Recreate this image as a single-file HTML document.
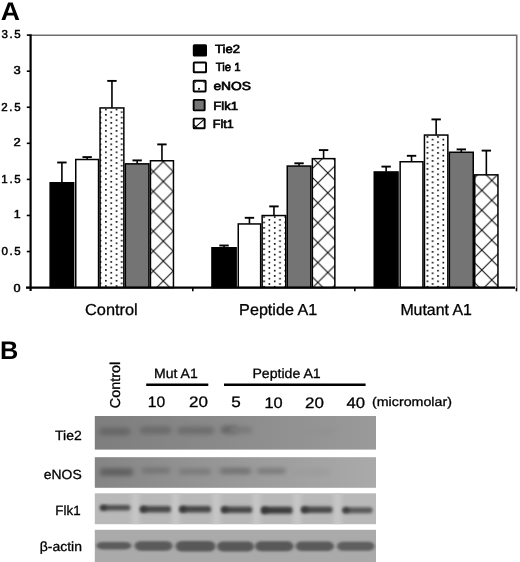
<!DOCTYPE html>
<html><head><meta charset="utf-8"><title>Figure</title>
<style>
html,body{margin:0;padding:0;background:#fff;width:520px;height:562px;overflow:hidden}
svg{filter:grayscale(1) blur(0.35px)}
svg{position:absolute;left:0;top:0;display:block}
text{font-family:"Liberation Sans",sans-serif;text-rendering:geometricPrecision}
</style></head>
<body>
<svg width="520" height="562" viewBox="0 0 520 562">
<defs>
<pattern id="dots0" patternUnits="userSpaceOnUse" x="105.10" y="108.70" width="10.6" height="5.35"><rect x="0" y="0" width="1.6" height="1.6" fill="#000"/><rect x="5.3" y="2.67" width="1.6" height="1.6" fill="#000"/></pattern>
<pattern id="hatch0" patternUnits="userSpaceOnUse" x="163.30" y="181.50" width="19.9" height="19.9"><path d="M-1,-1 L20.9,20.9 M20.9,-1 L-1,20.9" stroke="#111" stroke-width="1.1" fill="none"/></pattern>
<pattern id="dots1" patternUnits="userSpaceOnUse" x="263.30" y="109.30" width="10.6" height="5.35"><rect x="0" y="0" width="1.6" height="1.6" fill="#000"/><rect x="5.3" y="2.67" width="1.6" height="1.6" fill="#000"/></pattern>
<pattern id="hatch1" patternUnits="userSpaceOnUse" x="327.80" y="173.00" width="19.9" height="19.9"><path d="M-1,-1 L20.9,20.9 M20.9,-1 L-1,20.9" stroke="#111" stroke-width="1.1" fill="none"/></pattern>
<pattern id="dots2" patternUnits="userSpaceOnUse" x="426.60" y="109.30" width="10.6" height="5.35"><rect x="0" y="0" width="1.6" height="1.6" fill="#000"/><rect x="5.3" y="2.67" width="1.6" height="1.6" fill="#000"/></pattern>
<pattern id="hatch2" patternUnits="userSpaceOnUse" x="481.80" y="270.00" width="19.9" height="19.9"><path d="M-1,-1 L20.9,20.9 M20.9,-1 L-1,20.9" stroke="#111" stroke-width="1.1" fill="none"/></pattern>
<filter id="bl1" x="-20%" y="-100%" width="140%" height="300%"><feGaussianBlur stdDeviation="1.6 1.4"/></filter>
<filter id="bl2" x="-20%" y="-100%" width="140%" height="300%"><feGaussianBlur stdDeviation="1.2 1.0"/></filter>
</defs>
<path d="M30.5,35.2 H516.7 V288" stroke="#6e6e6e" stroke-width="1.6" fill="none"/>
<rect x="50.15" y="182.75" width="23.50" height="104.85" fill="#000" stroke="#000" stroke-width="1.5"/>
<line x1="61.90" y1="182.50" x2="61.90" y2="162.50" stroke="#000" stroke-width="1.6"/>
<line x1="57.20" y1="162.50" x2="66.60" y2="162.50" stroke="#000" stroke-width="1.9"/>
<rect x="75.75" y="159.50" width="22.80" height="128.10" fill="#fff" stroke="#000" stroke-width="1.5"/>
<line x1="87.15" y1="159.25" x2="87.15" y2="157.10" stroke="#000" stroke-width="1.6"/>
<line x1="82.45" y1="157.10" x2="91.85" y2="157.10" stroke="#000" stroke-width="1.9"/>
<rect x="100.05" y="107.95" width="23.80" height="179.65" fill="url(#dots0)" stroke="#000" stroke-width="1.5"/>
<line x1="111.95" y1="107.70" x2="111.95" y2="80.90" stroke="#000" stroke-width="1.6"/>
<line x1="107.25" y1="80.90" x2="116.65" y2="80.90" stroke="#000" stroke-width="1.9"/>
<rect x="125.35" y="163.85" width="23.60" height="123.75" fill="#747474" stroke="#000" stroke-width="1.5"/>
<line x1="137.15" y1="163.60" x2="137.15" y2="160.40" stroke="#000" stroke-width="1.6"/>
<line x1="132.45" y1="160.40" x2="141.85" y2="160.40" stroke="#000" stroke-width="1.9"/>
<rect x="150.45" y="160.75" width="23.00" height="126.85" fill="url(#hatch0)" stroke="#000" stroke-width="1.5"/>
<line x1="161.95" y1="160.50" x2="161.95" y2="144.40" stroke="#000" stroke-width="1.6"/>
<line x1="157.25" y1="144.40" x2="166.65" y2="144.40" stroke="#000" stroke-width="1.9"/>
<rect x="211.95" y="247.75" width="24.20" height="39.85" fill="#000" stroke="#000" stroke-width="1.5"/>
<line x1="224.05" y1="247.50" x2="224.05" y2="245.50" stroke="#000" stroke-width="1.6"/>
<line x1="219.35" y1="245.50" x2="228.75" y2="245.50" stroke="#000" stroke-width="1.9"/>
<rect x="238.25" y="223.95" width="22.40" height="63.65" fill="#fff" stroke="#000" stroke-width="1.5"/>
<line x1="249.45" y1="223.70" x2="249.45" y2="217.80" stroke="#000" stroke-width="1.6"/>
<line x1="244.75" y1="217.80" x2="254.15" y2="217.80" stroke="#000" stroke-width="1.9"/>
<rect x="262.15" y="215.55" width="23.60" height="72.05" fill="url(#dots1)" stroke="#000" stroke-width="1.5"/>
<line x1="273.95" y1="215.30" x2="273.95" y2="206.40" stroke="#000" stroke-width="1.6"/>
<line x1="269.25" y1="206.40" x2="278.65" y2="206.40" stroke="#000" stroke-width="1.9"/>
<rect x="287.25" y="166.05" width="23.60" height="121.55" fill="#747474" stroke="#000" stroke-width="1.5"/>
<line x1="299.05" y1="165.80" x2="299.05" y2="163.30" stroke="#000" stroke-width="1.6"/>
<line x1="294.35" y1="163.30" x2="303.75" y2="163.30" stroke="#000" stroke-width="1.9"/>
<rect x="312.35" y="158.65" width="22.50" height="128.95" fill="url(#hatch1)" stroke="#000" stroke-width="1.5"/>
<line x1="323.60" y1="158.40" x2="323.60" y2="150.10" stroke="#000" stroke-width="1.6"/>
<line x1="318.90" y1="150.10" x2="328.30" y2="150.10" stroke="#000" stroke-width="1.9"/>
<rect x="374.25" y="171.95" width="23.80" height="115.65" fill="#000" stroke="#000" stroke-width="1.5"/>
<line x1="386.15" y1="171.70" x2="386.15" y2="166.60" stroke="#000" stroke-width="1.6"/>
<line x1="381.45" y1="166.60" x2="390.85" y2="166.60" stroke="#000" stroke-width="1.9"/>
<rect x="400.15" y="161.75" width="22.80" height="125.85" fill="#fff" stroke="#000" stroke-width="1.5"/>
<line x1="411.55" y1="161.50" x2="411.55" y2="155.80" stroke="#000" stroke-width="1.6"/>
<line x1="406.85" y1="155.80" x2="416.25" y2="155.80" stroke="#000" stroke-width="1.9"/>
<rect x="424.45" y="135.05" width="23.40" height="152.55" fill="url(#dots2)" stroke="#000" stroke-width="1.5"/>
<line x1="436.15" y1="134.80" x2="436.15" y2="119.40" stroke="#000" stroke-width="1.6"/>
<line x1="431.45" y1="119.40" x2="440.85" y2="119.40" stroke="#000" stroke-width="1.9"/>
<rect x="449.35" y="152.25" width="23.90" height="135.35" fill="#747474" stroke="#000" stroke-width="1.5"/>
<line x1="461.30" y1="152.00" x2="461.30" y2="149.40" stroke="#000" stroke-width="1.6"/>
<line x1="456.60" y1="149.40" x2="466.00" y2="149.40" stroke="#000" stroke-width="1.9"/>
<rect x="474.75" y="174.85" width="23.20" height="112.75" fill="url(#hatch2)" stroke="#000" stroke-width="1.5"/>
<line x1="486.35" y1="174.60" x2="486.35" y2="150.60" stroke="#000" stroke-width="1.6"/>
<line x1="481.65" y1="150.60" x2="491.05" y2="150.60" stroke="#000" stroke-width="1.9"/>
<line x1="30.6" y1="34.2" x2="30.6" y2="291.0" stroke="#000" stroke-width="2.2"/>
<line x1="26.0" y1="287.6" x2="515" y2="287.6" stroke="#000" stroke-width="2.1"/>
<line x1="26.8" y1="287.60" x2="30" y2="287.60" stroke="#000" stroke-width="1.6"/>
<line x1="26.8" y1="251.53" x2="30" y2="251.53" stroke="#000" stroke-width="1.6"/>
<line x1="26.8" y1="215.46" x2="30" y2="215.46" stroke="#000" stroke-width="1.6"/>
<line x1="26.8" y1="179.39" x2="30" y2="179.39" stroke="#000" stroke-width="1.6"/>
<line x1="26.8" y1="143.32" x2="30" y2="143.32" stroke="#000" stroke-width="1.6"/>
<line x1="26.8" y1="107.25" x2="30" y2="107.25" stroke="#000" stroke-width="1.6"/>
<line x1="26.8" y1="71.18" x2="30" y2="71.18" stroke="#000" stroke-width="1.6"/>
<line x1="26.8" y1="35.11" x2="30" y2="35.11" stroke="#000" stroke-width="1.6"/>
<line x1="192.8" y1="288" x2="192.8" y2="291.3" stroke="#000" stroke-width="1.6"/>
<line x1="354.8" y1="288" x2="354.8" y2="291.3" stroke="#000" stroke-width="1.6"/>
<line x1="516.5" y1="288" x2="516.5" y2="291.3" stroke="#000" stroke-width="1.6"/>
<rect x="193.75" y="45.25" width="12.30" height="10.30" rx="0.6" fill="#000" stroke="#000" stroke-width="1.9"/>
<rect x="193.75" y="62.55" width="12.30" height="9.70" rx="0.6" fill="#fff" stroke="#000" stroke-width="1.9"/>
<rect x="193.65" y="80.75" width="12.00" height="10.70" rx="0.6" fill="#fff" stroke="#000" stroke-width="1.9"/>
<rect x="193.65" y="99.85" width="11.00" height="10.50" rx="0.6" fill="#767676" stroke="#000" stroke-width="1.9"/>
<rect x="193.65" y="118.65" width="11.00" height="9.60" rx="0.6" fill="#fff" stroke="#000" stroke-width="1.9"/>
<rect x="198.1" y="87.9" width="1.8" height="1.8" fill="#000"/>
<rect x="194.6" y="81.6" width="1.3" height="1.3" fill="#222"/><rect x="203.4" y="81.6" width="1.3" height="1.3" fill="#222"/>
<path d="M194.0,128.4 L205.0,118.6 M194.0,124.8 L197.4,128.4" stroke="#000" stroke-width="1.1" fill="none"/>
<line x1="146.2" y1="384.8" x2="208.3" y2="384.8" stroke="#000" stroke-width="2.6"/>
<line x1="224" y1="384.7" x2="365.6" y2="384.7" stroke="#000" stroke-width="2.6"/>
<defs>
<linearGradient id="gTie" x1="0" x2="1" y1="0" y2="0"><stop offset="0" stop-color="#7e7e7e"/><stop offset="0.4" stop-color="#898989"/><stop offset="1" stop-color="#9a9a9a"/></linearGradient>
<linearGradient id="gEnos" x1="0" x2="1" y1="0" y2="0"><stop offset="0" stop-color="#858585"/><stop offset="0.45" stop-color="#979797"/><stop offset="1" stop-color="#aaaaaa"/></linearGradient>
<filter id="fb" x="-30%" y="-150%" width="160%" height="400%"><feGaussianBlur stdDeviation="2.4 1.9"/></filter>
<filter id="fb2" x="-30%" y="-150%" width="160%" height="400%"><feGaussianBlur stdDeviation="1.6 1.2"/></filter>
<filter id="fb4" x="-30%" y="-150%" width="160%" height="400%"><feGaussianBlur stdDeviation="1.8 1.5"/></filter>
<filter id="fb3" x="-100%" y="-20%" width="300%" height="140%"><feGaussianBlur stdDeviation="2.2 0.5"/></filter>
<clipPath id="cTie"><rect x="94.8" y="416.0" width="281.2" height="33.6"/></clipPath>
<clipPath id="cEnos"><rect x="94.8" y="457.2" width="281.2" height="30.6"/></clipPath>
<clipPath id="cFlk"><rect x="94.8" y="493.3" width="281.2" height="30.9"/></clipPath>
<clipPath id="cAct"><rect x="94.8" y="529.8" width="281.2" height="32.2"/></clipPath>
</defs>
<rect x="94.8" y="416.0" width="281.2" height="33.6" fill="url(#gTie)"/>
<g clip-path="url(#cTie)">
<rect x="99.4" y="427.6" width="30.8" height="8.0" rx="3" fill="#686868" filter="url(#fb)"/>
<rect x="140.0" y="426.3" width="31.2" height="8.0" rx="3" fill="#6c6c6c" filter="url(#fb)"/>
<rect x="177.5" y="426.5" width="36.3" height="8.0" rx="3" fill="#6e6e6e" filter="url(#fb)"/>
<rect x="221.0" y="425.8" width="17.0" height="8.0" rx="3" fill="#666666" filter="url(#fb)"/>
<rect x="230.0" y="426.5" width="22.0" height="7.0" rx="3" fill="#7a7a7a" filter="url(#fb)"/>
<rect x="302.0" y="428.0" width="32.0" height="7.0" rx="3" fill="#929292" filter="url(#fb)"/>
</g>
<rect x="94.8" y="457.2" width="281.2" height="30.6" fill="url(#gEnos)"/>
<g clip-path="url(#cEnos)">
<rect x="100.0" y="467.9" width="33.0" height="8.0" rx="2.5" fill="#626262" filter="url(#fb)"/>
<rect x="141.6" y="467.4" width="28.4" height="6.0" rx="2.5" fill="#747474" filter="url(#fb)"/>
<rect x="178.8" y="468.6" width="32.2" height="6.0" rx="2.5" fill="#7a7a7a" filter="url(#fb)"/>
<rect x="219.8" y="467.8" width="31.0" height="6.5" rx="2.5" fill="#737373" filter="url(#fb)"/>
<rect x="257.0" y="468.0" width="28.5" height="6.0" rx="2.5" fill="#7c7c7c" filter="url(#fb)"/>
<rect x="292.0" y="469.0" width="38.0" height="6.0" rx="2.5" fill="#9c9c9c" filter="url(#fb)"/>
</g>
<rect x="94.8" y="493.3" width="281.2" height="30.9" fill="#b9b9b9"/>
<g clip-path="url(#cFlk)">
<rect x="131.5" y="490" width="8" height="38" fill="#c6c6c6" filter="url(#fb3)"/>
<rect x="171.5" y="490" width="8" height="38" fill="#c6c6c6" filter="url(#fb3)"/>
<rect x="212.5" y="490" width="8" height="38" fill="#c6c6c6" filter="url(#fb3)"/>
<rect x="252.5" y="490" width="8" height="38" fill="#c6c6c6" filter="url(#fb3)"/>
<rect x="293.0" y="490" width="8" height="38" fill="#c6c6c6" filter="url(#fb3)"/>
<rect x="333.5" y="490" width="8" height="38" fill="#c6c6c6" filter="url(#fb3)"/>
<rect x="100.0" y="505.1" width="30.4" height="5.5" rx="2.5" fill="#505050" filter="url(#fb4)"/>
<ellipse cx="103.5" cy="507.8" rx="3.5" ry="2.8" fill="#303030" filter="url(#fb4)" opacity="0.7"/>
<rect x="140.0" y="505.9" width="31.0" height="6.5" rx="2.5" fill="#4a4a4a" filter="url(#fb4)"/>
<ellipse cx="143.5" cy="509.2" rx="3.5" ry="3.2" fill="#303030" filter="url(#fb4)" opacity="0.7"/>
<rect x="179.4" y="505.9" width="31.7" height="6.5" rx="2.5" fill="#464646" filter="url(#fb4)"/>
<ellipse cx="182.9" cy="509.2" rx="3.5" ry="3.2" fill="#303030" filter="url(#fb4)" opacity="0.7"/>
<rect x="221.2" y="506.4" width="31.1" height="6.5" rx="2.5" fill="#4a4a4a" filter="url(#fb4)"/>
<ellipse cx="224.7" cy="509.6" rx="3.5" ry="3.2" fill="#303030" filter="url(#fb4)" opacity="0.7"/>
<rect x="261.2" y="506.7" width="31.3" height="7.0" rx="2.5" fill="#3e3e3e" filter="url(#fb4)"/>
<ellipse cx="264.7" cy="510.2" rx="3.5" ry="3.5" fill="#303030" filter="url(#fb4)" opacity="0.7"/>
<rect x="301.2" y="506.6" width="31.3" height="6.5" rx="2.5" fill="#4c4c4c" filter="url(#fb4)"/>
<ellipse cx="304.7" cy="509.8" rx="3.5" ry="3.2" fill="#303030" filter="url(#fb4)" opacity="0.7"/>
<rect x="342.5" y="507.2" width="30.0" height="6.0" rx="2.5" fill="#5a5a5a" filter="url(#fb4)"/>
<ellipse cx="346.0" cy="510.2" rx="3.5" ry="3.0" fill="#303030" filter="url(#fb4)" opacity="0.7"/>
</g>
<rect x="94.8" y="529.8" width="281.2" height="32.2" fill="#aaaaaa"/>
<g clip-path="url(#cAct)">
<rect x="96.3" y="541.9" width="35.1" height="7.5" rx="6" ry="3.8" fill="#5c5c5c" filter="url(#fb2)"/>
<rect x="134.6" y="541.2" width="37.9" height="9.5" rx="6" ry="4.8" fill="#5a5a5a" filter="url(#fb2)"/>
<rect x="175.5" y="541.0" width="40.0" height="10.5" rx="6" ry="5.2" fill="#585858" filter="url(#fb2)"/>
<rect x="217.0" y="541.5" width="37.0" height="10.0" rx="6" ry="5.0" fill="#585858" filter="url(#fb2)"/>
<rect x="255.0" y="541.3" width="38.5" height="10.0" rx="6" ry="5.0" fill="#585858" filter="url(#fb2)"/>
<rect x="295.5" y="541.5" width="38.5" height="9.5" rx="6" ry="4.8" fill="#5a5a5a" filter="url(#fb2)"/>
<rect x="337.0" y="541.8" width="37.5" height="9.0" rx="6" ry="4.5" fill="#5e5e5e" filter="url(#fb2)"/>
</g>
<text x="0.74" y="19.90" font-size="25.6" font-weight="bold" textLength="19.26" lengthAdjust="spacingAndGlyphs" fill="#000" stroke="#000" stroke-width="0.0">A</text>
<text x="-0.10" y="358.88" font-size="25.6" font-weight="bold" textLength="18.30" lengthAdjust="spacingAndGlyphs" fill="#000" stroke="#000" stroke-width="0.0">B</text>
<text x="1.62" y="38.30" font-size="11.5" font-weight="normal" textLength="18.97" lengthAdjust="spacing" fill="#000" stroke="#000" stroke-width="0.5">3.5</text>
<text x="13.59" y="74.39" font-size="11.5" font-weight="normal" textLength="7.26" lengthAdjust="spacingAndGlyphs" fill="#000" stroke="#000" stroke-width="0.5">3</text>
<text x="1.13" y="110.50" font-size="11.5" font-weight="normal" textLength="19.56" lengthAdjust="spacing" fill="#000" stroke="#000" stroke-width="0.5">2.5</text>
<text x="13.62" y="146.46" font-size="11.5" font-weight="normal" textLength="7.23" lengthAdjust="spacingAndGlyphs" fill="#000" stroke="#000" stroke-width="0.5">2</text>
<text x="1.29" y="183.10" font-size="11.5" font-weight="normal" textLength="19.42" lengthAdjust="spacing" fill="#000" stroke="#000" stroke-width="0.5">1.5</text>
<text x="13.74" y="217.89" font-size="11.5" font-weight="normal" textLength="6.89" lengthAdjust="spacingAndGlyphs" fill="#000" stroke="#000" stroke-width="0.5">1</text>
<text x="1.54" y="254.91" font-size="11.5" font-weight="normal" textLength="19.05" lengthAdjust="spacing" fill="#000" stroke="#000" stroke-width="0.5">0.5</text>
<text x="13.40" y="291.90" font-size="11.5" font-weight="normal" textLength="7.07" lengthAdjust="spacingAndGlyphs" fill="#000" stroke="#000" stroke-width="0.5">0</text>
<text x="85.03" y="314.65" font-size="15.9" font-weight="normal" textLength="52.74" lengthAdjust="spacingAndGlyphs" fill="#000" stroke="#000" stroke-width="0.3">Control</text>
<text x="239.14" y="315.06" font-size="15.9" font-weight="normal" textLength="78.15" lengthAdjust="spacingAndGlyphs" fill="#000" stroke="#000" stroke-width="0.3">Peptide A1</text>
<text x="400.39" y="315.01" font-size="15.9" font-weight="normal" textLength="71.56" lengthAdjust="spacingAndGlyphs" fill="#000" stroke="#000" stroke-width="0.3">Mutant A1</text>
<text x="215.04" y="53.24" font-size="11.8" font-weight="normal" textLength="24.89" lengthAdjust="spacingAndGlyphs" fill="#000" stroke="#000" stroke-width="0.65">Tie2</text>
<text x="215.76" y="71.23" font-size="11.8" font-weight="normal" textLength="24.89" lengthAdjust="spacingAndGlyphs" fill="#000" stroke="#000" stroke-width="0.65">Tie 1</text>
<text x="213.40" y="89.50" font-size="11.8" font-weight="normal" textLength="37.66" lengthAdjust="spacingAndGlyphs" fill="#000" stroke="#000" stroke-width="0.65">eNOS</text>
<text x="213.26" y="109.84" font-size="11.8" font-weight="normal" textLength="24.70" lengthAdjust="spacingAndGlyphs" fill="#000" stroke="#000" stroke-width="0.65">Flk1</text>
<text x="212.88" y="127.67" font-size="11.8" font-weight="normal" textLength="20.93" lengthAdjust="spacingAndGlyphs" fill="#000" stroke="#000" stroke-width="0.65">Flt1</text>
<text x="154.01" y="377.84" font-size="13.6" font-weight="normal" textLength="43.71" lengthAdjust="spacingAndGlyphs" fill="#000" stroke="#000" stroke-width="0.3">Mut A1</text>
<text x="252.45" y="377.95" font-size="13.6" font-weight="normal" textLength="68.26" lengthAdjust="spacingAndGlyphs" fill="#000" stroke="#000" stroke-width="0.3">Peptide A1</text>
<text x="147.80" y="407.23" font-size="15.1" font-weight="normal" textLength="17.42" lengthAdjust="spacingAndGlyphs" fill="#000" stroke="#000" stroke-width="0.3">10</text>
<text x="189.13" y="407.09" font-size="15.1" font-weight="normal" textLength="18.92" lengthAdjust="spacingAndGlyphs" fill="#000" stroke="#000" stroke-width="0.3">20</text>
<text x="231.35" y="407.04" font-size="15.1" font-weight="normal" textLength="9.52" lengthAdjust="spacingAndGlyphs" fill="#000" stroke="#000" stroke-width="0.3">5</text>
<text x="264.42" y="407.85" font-size="15.1" font-weight="normal" textLength="18.26" lengthAdjust="spacingAndGlyphs" fill="#000" stroke="#000" stroke-width="0.3">10</text>
<text x="305.04" y="407.87" font-size="15.1" font-weight="normal" textLength="18.86" lengthAdjust="spacingAndGlyphs" fill="#000" stroke="#000" stroke-width="0.3">20</text>
<text x="346.47" y="407.86" font-size="15.1" font-weight="normal" textLength="18.61" lengthAdjust="spacingAndGlyphs" fill="#000" stroke="#000" stroke-width="0.3">40</text>
<text x="371.99" y="405.87" font-size="12.6" font-weight="normal" textLength="79.95" lengthAdjust="spacingAndGlyphs" fill="#000" stroke="#000" stroke-width="0.3">(micromolar)</text>
<text x="55.06" y="439.74" font-size="13.3" font-weight="normal" textLength="26.67" lengthAdjust="spacingAndGlyphs" fill="#000" stroke="#000" stroke-width="0.3">Tie2</text>
<text x="43.86" y="479.22" font-size="13.3" font-weight="normal" textLength="37.84" lengthAdjust="spacingAndGlyphs" fill="#000" stroke="#000" stroke-width="0.3">eNOS</text>
<text x="55.38" y="514.57" font-size="13.3" font-weight="normal" textLength="25.18" lengthAdjust="spacingAndGlyphs" fill="#000" stroke="#000" stroke-width="0.3">Flk1</text>
<text x="39.79" y="550.70" font-size="13.3" font-weight="normal" textLength="42.16" lengthAdjust="spacingAndGlyphs" fill="#000" stroke="#000" stroke-width="0.3">&#946;-actin</text>
<text transform="translate(120.07,408.26) rotate(-90)" font-size="14.3" font-weight="normal" textLength="46.50" lengthAdjust="spacingAndGlyphs" fill="#000" stroke="#000" stroke-width="0.3">Control</text>
</svg>
</body></html>
